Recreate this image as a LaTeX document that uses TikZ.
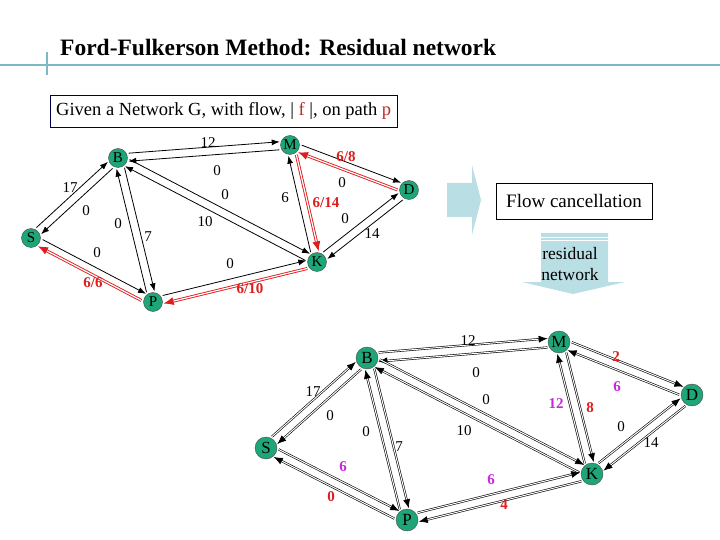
\documentclass[tikz,border=0pt]{standalone}
\usepackage{fontspec}
\setmainfont{Liberation Serif}
\usetikzlibrary{calc,arrows.meta}
\definecolor{nodeg}{RGB}{30,165,120}
\definecolor{teal1}{RGB}{125,185,195}
\definecolor{lblue}{RGB}{185,222,228}
\definecolor{rd}{RGB}{220,30,30}
\definecolor{mg}{RGB}{200,40,220}
\definecolor{lr}{RGB}{190,40,40}
\begin{document}
\begin{tikzpicture}[x=1pt,y=-1pt,
  vs/.style={circle,draw=black!70,fill=nodeg,inner sep=0pt,minimum size=19pt,font=\fontsize{15}{15}\selectfont},
  vb/.style={circle,draw=black!70,fill=nodeg,inner sep=0pt,minimum size=22pt,font=\fontsize{17}{17}\selectfont},
  ar/.style={-{Latex[length=8pt,width=6pt]},line width=0.8pt},
  ard/.style={-{Latex[length=9pt,width=7pt]},draw=black,double=white,double distance=1pt,line width=0.6pt},
  arr/.style={-{Latex[length=10pt,width=8pt]},draw=rd,double=white,double distance=1.2pt,line width=0.9pt},
  lb/.style={font=\fontsize{15}{15}\selectfont},
  lr/.style={font=\bfseries\fontsize{15}{15}\selectfont,text=rd},
  lm/.style={font=\bfseries\fontsize{15}{15}\selectfont,text=mg}]
\useasboundingbox (0,0) rectangle (720,540);
% header
\draw[teal1,line width=2.5pt] (0,65) -- (720,65);
\draw[teal1,line width=2pt] (47,52) -- (47,75);
\node[anchor=west,inner xsep=0pt,font=\bfseries\fontsize{23.5}{23.5}\selectfont] (title) at (60,48) {Ford-Fulkerson Method: Residual network};
\node[draw=black!70!blue,anchor=west,minimum height=32pt,inner xsep=6pt,font=\fontsize{18.5}{18.5}\selectfont] (given) at (50,111) {Given a Network G, with flow, | \textcolor{lr}{f} |, on path \textcolor{lr}{p}};
% big arrows
\fill[lblue] (447,183) -- (472,183) -- (472,165) -- (481,200) -- (472,235) -- (472,217) -- (447,217) -- cycle;
\node[draw=black,minimum width=156pt,minimum height=36pt,font=\fontsize{19}{19}\selectfont] (fc) at (574,201) {Flow cancellation};
\fill[lblue] (541,233) -- (608,233) -- (608,282) -- (625,282) -- (573,294) -- (522,282) -- (541,282) -- cycle;
\draw[white,line width=0.8pt] (541,237) -- (608,237) (541,240.5) -- (608,240.5);
\node[align=center,font=\fontsize{17.5}{21}\selectfont] (rn) at (570,264) {residual\\network};
% top graph
\node[vs] (B) at (118,158) {B};
\node[vs] (M) at (290,145) {M};
\node[vs] (D) at (409,190) {D};
\node[vs] (S) at (31,238) {S};
\node[vs] (K) at (317,262) {K};
\node[vs] (P) at (153,302) {P};
\newcommand{\pe}[4]{% style, from, to, offset
  \draw[#1,shorten <=11pt,shorten >=10pt] ($(#2)!#4!90:(#3)$) -- ($(#3)!#4!-90:(#2)$);}
\pe{ar}{M}{B}{4pt}\pe{ar}{B}{M}{4pt}
\pe{ar}{S}{B}{4pt}\pe{ar}{B}{S}{4pt}
\pe{ar}{B}{P}{4pt}\pe{ar}{P}{B}{4pt}
\pe{ar}{K}{B}{4pt}\pe{ar}{B}{K}{4pt}
\pe{ar}{S}{P}{4pt}\pe{arr}{P}{S}{4pt}
\pe{ar}{P}{K}{4pt}\pe{arr}{K}{P}{4pt}
\pe{ar}{K}{M}{4pt}\pe{arr}{M}{K}{4pt}
\pe{arr}{D}{M}{4pt}\pe{ar}{M}{D}{4pt}
\pe{ar}{K}{D}{4pt}\pe{ar}{D}{K}{4pt}
\node[lb] at (208,143) {12};
\node[lb] at (217,171) {0};
\node[lr] at (346,157) {6/8};
\node[lb] at (342,183) {0};
\node[lb] at (70,188) {17};
\node[lb] at (86,211) {0};
\node[lb] at (225,195) {0};
\node[lb] at (285,198) {6};
\node[lr] at (326,203) {6/14};
\node[lb] at (118,224) {0};
\node[lb] at (148,237) {7};
\node[lb] at (205,222) {10};
\node[lb] at (345,219) {0};
\node[lb] at (372,234) {14};
\node[lb] at (97,253) {0};
\node[lb] at (230,264) {0};
\node[lr] at (93,283) {6/6};
\node[lr] at (250,289) {6/10};
% bottom graph
\node[vb] (B2) at (367,358) {B};
\node[vb] (M2) at (559,342) {M};
\node[vb] (D2) at (692,395) {D};
\node[vb] (S2) at (266,448) {S};
\node[vb] (K2) at (592,474) {K};
\node[vb] (P2) at (407,520) {P};
\renewcommand{\pe}[4]{%
  \draw[#1,shorten <=12pt,shorten >=11pt] ($(#2)!#4!90:(#3)$) -- ($(#3)!#4!-90:(#2)$);}
\pe{ard}{M2}{B2}{4.5pt}\pe{ard}{B2}{M2}{4.5pt}
\pe{ard}{S2}{B2}{4.5pt}\pe{ard}{B2}{S2}{4.5pt}
\pe{ard}{B2}{P2}{4.5pt}\pe{ard}{P2}{B2}{4.5pt}
\pe{ard}{K2}{B2}{4.5pt}\pe{ard}{B2}{K2}{4.5pt}
\pe{ard}{S2}{P2}{4.5pt}\pe{ard}{P2}{S2}{4.5pt}
\pe{ard}{P2}{K2}{4.5pt}\pe{ard}{K2}{P2}{4.5pt}
\pe{ard}{K2}{M2}{4.5pt}\pe{ard}{M2}{K2}{4.5pt}
\pe{ard}{D2}{M2}{4.5pt}\pe{ard}{M2}{D2}{4.5pt}
\pe{ard}{K2}{D2}{4.5pt}\pe{ard}{D2}{K2}{4.5pt}
\node[lb] at (468,341) {12};
\node[lb] at (476,373) {0};
\node[lr] at (616,357) {2};
\node[lm] at (617,387) {6};
\node[lb] at (313,392) {17};
\node[lb] at (330,416) {0};
\node[lb] at (486,400) {0};
\node[lm] at (556,404) {12};
\node[lr] at (590,408) {8};
\node[lb] at (464,431) {10};
\node[lb] at (366,432) {0};
\node[lb] at (399,447) {7};
\node[lb] at (621,427) {0};
\node[lb] at (651,443) {14};
\node[lm] at (343,467) {6};
\node[lm] at (491,480) {6};
\node[lr] at (331,497) {0};
\node[lr] at (504,505) {4};
\end{tikzpicture}
\end{document}
